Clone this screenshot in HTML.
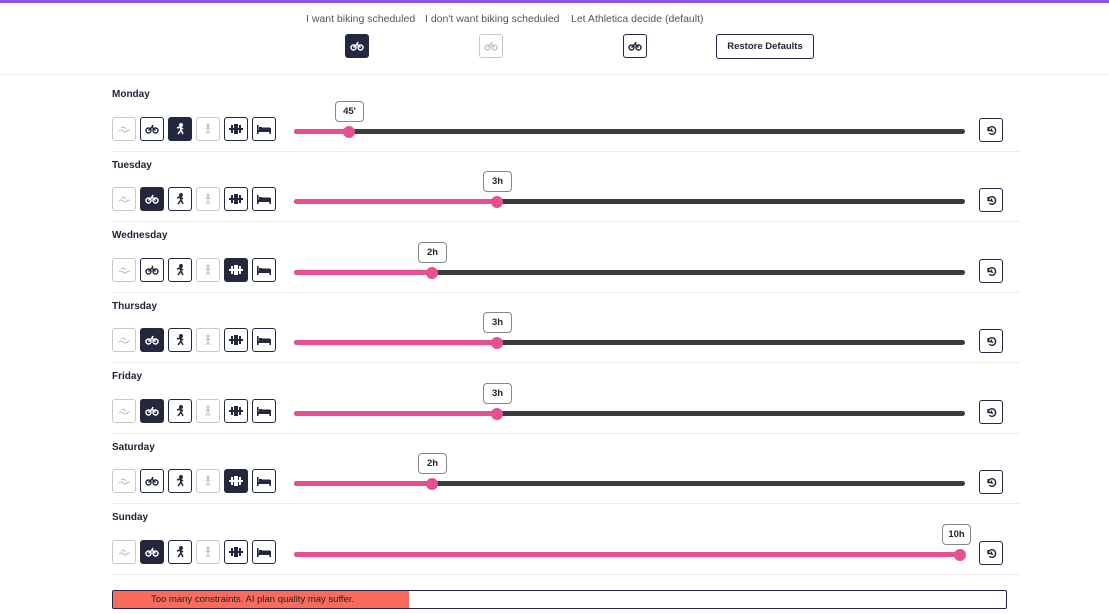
<!DOCTYPE html>
<html><head><meta charset="utf-8"><style>
*{box-sizing:border-box;margin:0;padding:0}
body{width:1109px;height:614px;background:#fff;font-family:"Liberation Sans",Arial,sans-serif;position:relative;overflow:hidden;color:#1e2235}
.a{position:absolute}
.top{left:0;top:0;width:1109px;height:3px;background:#8b55e8}
.hl{font-size:10.5px;color:#555;top:13px}
.btn{position:absolute;width:24px;height:24px;border:1px solid #23283f;border-radius:3px;background:#fff;display:flex;align-items:center;justify-content:center}
.btn.on{background:#23283f}
.btn.off{border-color:#c8c8c8}
.sep{left:112px;width:908px;height:1px;background:#ececec}
.day{left:112px;font-size:10px;font-weight:bold;color:#1e2235}
.track{left:294px;width:671px;height:5px;border-radius:3px;background:#3b3b3b}
.fill{left:294px;height:5px;border-radius:3px;background:#e84f92}
.thumb{width:12px;height:12px;border-radius:6px;background:#e84f92}
.tip{width:29px;height:21px;border:1px solid #888;border-radius:4px;background:#fff;font-size:9.5px;font-weight:bold;text-align:center;line-height:19px}
svg{display:block}
</style></head><body>
<div class="a top"></div>
<div class="a hl" style="left:306px">I want biking scheduled</div>
<div class="a hl" style="left:425px">I don't want biking scheduled</div>
<div class="a hl" style="left:571px">Let Athletica decide (default)</div>
<div class="btn on" style="left:345px;top:34px"><svg width="14" height="10"><g fill="none" stroke="#fff" stroke-width="1.5"><circle cx="3.5" cy="6.5" r="2.5"/><circle cx="10.5" cy="6.5" r="2.5"/><path d="M3.5 6.5 7 3 10.5 6.5M7 3 8 1"/></g></svg></div>
<div class="btn off" style="left:479px;top:34px"><svg width="14" height="10"><g fill="none" stroke="#bbb" stroke-width="1.2"><circle cx="3.5" cy="6.5" r="2.5"/><circle cx="10.5" cy="6.5" r="2.5"/><path d="M3.5 6.5 7 3 10.5 6.5M7 3 8 1"/></g></svg></div>
<div class="btn" style="left:623px;top:34px"><svg width="14" height="10"><g fill="none" stroke="#23283f" stroke-width="1.5"><circle cx="3.5" cy="6.5" r="2.5"/><circle cx="10.5" cy="6.5" r="2.5"/><path d="M3.5 6.5 7 3 10.5 6.5M7 3 8 1"/></g></svg></div>
<div class="a" style="left:716px;top:34px;width:98px;height:25px;border:1px solid #23283f;border-radius:3px;font-size:9.5px;font-weight:bold;text-align:center;line-height:23px">Restore Defaults</div>
<div class="a" style="left:0;top:74px;width:1109px;height:1px;background:#ececec"></div>

<div id="rows"></div>
<div class="a day" style="top:89px">Monday</div>
<div class="a day" style="top:160px">Tuesday</div>
<div class="a day" style="top:230px">Wednesday</div>
<div class="a day" style="top:301px">Thursday</div>
<div class="a day" style="top:371px">Friday</div>
<div class="a day" style="top:442px">Saturday</div>
<div class="a day" style="top:512px">Sunday</div>
<div class="a tip" style="left:335px;top:101px">45'</div>
<div class="a tip" style="left:483px;top:171px">3h</div>
<div class="a tip" style="left:418px;top:242px">2h</div>
<div class="a tip" style="left:483px;top:312px">3h</div>
<div class="a tip" style="left:483px;top:383px">3h</div>
<div class="a tip" style="left:418px;top:453px">2h</div>
<div class="a tip" style="left:942px;top:524px">10h</div>

<div class="a" style="left:112px;top:590px;width:895px;height:19px;border:1px solid #23283f;border-radius:2px;overflow:hidden"><div style="width:296px;height:100%;background:#fb6b5b;font-size:9.5px;line-height:17px;padding-left:38px;color:#222">Too many constraints. AI plan quality may suffer.</div></div>

<script>
var tops=[117,187,258,328,399,469,540];
var thumbs=[349,497,432,497,497,432,960];
var active=[[0,0,1,0,0,0],[0,1,0,0,0,0],[0,0,0,0,1,0],[0,1,0,0,0,0],[0,1,0,0,0,0],[0,0,0,0,1,0],[0,1,0,0,0,0]];
function icon(i,c){
 if(i==0)return '<svg width="12" height="8"><path d="M1 6q2-2 4 0t4 0 3 0M3 3l3-1 2 2" fill="none" stroke="'+c+'" stroke-width="1"/></svg>';
 if(i==1)return '<svg width="14" height="10"><g fill="none" stroke="'+c+'" stroke-width="1.5"><circle cx="3.5" cy="6.5" r="2.5"/><circle cx="10.5" cy="6.5" r="2.5"/><path d="M3.5 6.5 7 3 10.5 6.5M7 3 8 1"/></g></svg>';
 if(i==2)return '<svg width="10" height="12"><g fill="none" stroke="'+c+'" stroke-width="1.5"><circle cx="6" cy="2" r="1.2" fill="'+c+'"/><path d="M2 5l3-1 1 3-3 4M6 7l2 4M5 4l3 2"/></g></svg>';
 if(i==3)return '<svg width="10" height="12"><g fill="none" stroke="'+c+'" stroke-width="1"><circle cx="5" cy="2" r="1"/><path d="M5 4v4l-2 3M5 8l2 3M3 6l2-2 2 2"/></g></svg>';
 if(i==4)return '<svg width="14" height="10"><g fill="'+c+'"><rect x="0" y="4" width="14" height="2"/><rect x="2" y="1" width="2" height="8"/><rect x="5" y="0" width="2" height="10"/><rect x="7" y="0" width="2" height="10"/><rect x="10" y="1" width="2" height="8"/></g></svg>';
 return '<svg width="14" height="10"><g fill="'+c+'"><rect x="0" y="1" width="1.6" height="9"/><rect x="0" y="6" width="14" height="2"/><rect x="12.4" y="4" width="1.6" height="6"/><rect x="2" y="3" width="3" height="3"/><rect x="5" y="3.5" width="8" height="2.5"/></g></svg>';
}
var h='';
for(var r=0;r<7;r++){
 var t=tops[r];
 for(var i=0;i<6;i++){
  var cls='btn',col='#23283f';
  if(i==0||i==3){cls+=' off';col='#bbb';}
  if(active[r][i]){cls+=' on';col='#fff';}
  h+='<div class="'+cls+'" style="left:'+(112+i*28)+'px;top:'+t+'px">'+icon(i,col)+'</div>';
 }
 h+='<div class="a track" style="top:'+(t+12)+'px"></div>';
 h+='<div class="a fill" style="top:'+(t+12)+'px;width:'+(thumbs[r]-294)+'px"></div>';
 h+='<div class="a thumb" style="left:'+(thumbs[r]-6)+'px;top:'+(t+9)+'px"></div>';
 h+='<div class="btn" style="left:979px;top:'+(t+1)+'px"><svg width="11" height="11"><g fill="none" stroke="#23283f" stroke-width="1.4"><path d="M2 5.5a3.8 3.8 0 1 1 1.2 2.8M2 2v3.5h3"/><path d="M5.5 3.5v2.2l1.5 1"/></g></svg></div>';
 h+='<div class="a sep" style="top:'+(t+34)+'px"></div>';
}
document.getElementById('rows').innerHTML=h;
</script>
</body></html>
